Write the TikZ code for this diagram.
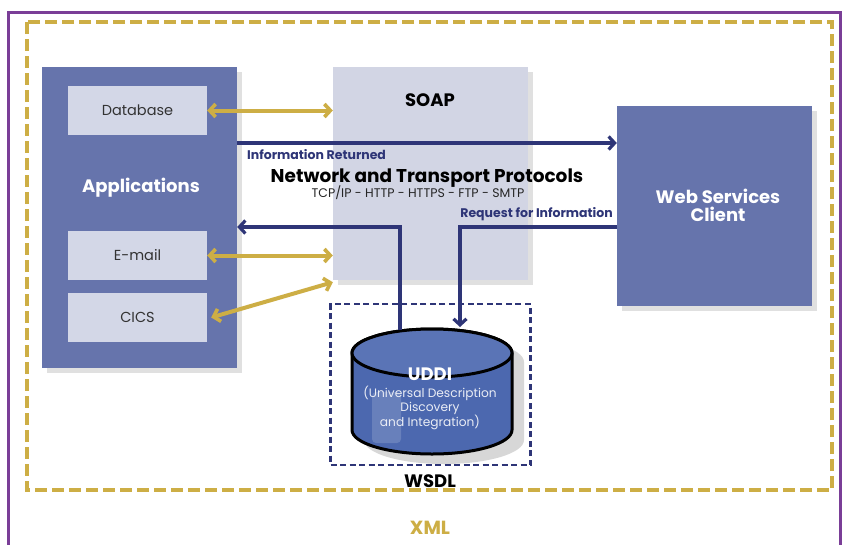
\documentclass[tikz,border=0pt]{standalone}
\usepackage{fontspec}
\setmainfont{Poppins}
\usetikzlibrary{arrows.meta,calc}
\definecolor{frameviolet}{HTML}{7A3E97}
\definecolor{xmlgold}{HTML}{CDAE45}
\definecolor{appblue}{HTML}{6674AC}
\definecolor{paleblue}{HTML}{D3D7E7}
\definecolor{soapgrey}{HTML}{D2D5E4}
\definecolor{navy}{HTML}{2E3577}
\definecolor{drumblue}{HTML}{4C68AF}
\definecolor{drumtop}{HTML}{5A74B6}
\tikzset{
  shadowbox/.style={fill=black!20, draw=none, opacity=0.6},
  appbox/.style={fill=appblue, draw=none, minimum width=195pt, minimum height=301pt, inner sep=0pt},
  subbox/.style={fill=paleblue, draw=none, minimum width=139pt, minimum height=49pt, inner sep=0pt, font=\fontsize{14.5}{16}\selectfont, text=black!80},
  goldarrow/.style={draw=xmlgold, line width=4pt, {Straight Barb[length=6pt,width=13pt,line width=3.6pt]}-{Straight Barb[length=6pt,width=13pt,line width=3.6pt]}},
  navyarrow/.style={draw=navy, line width=3.4pt, -{Straight Barb[length=6pt,width=13pt,line width=3.2pt]}},
  whitebold/.style={text=white, font=\bfseries\fontsize{18}{18}\selectfont, align=center},
  navylabel/.style={text=navy, font=\bfseries\fontsize{12.5}{14}\selectfont, inner sep=0pt},
  blacktitle/.style={font=\bfseries\fontsize{18}{20}\selectfont},
}
\begin{document}
\begin{tikzpicture}[x=1pt,y=-1pt]
\useasboundingbox (0,0) rectangle (848,544);
\fill[white] (0,0) rectangle (848,544);
% outer frame
\draw[frameviolet, line width=3pt] (8,12) rectangle (840,560);
% XML boundary
\draw[xmlgold, line width=3.6pt, dash pattern=on 12pt off 5pt] (27,22) rectangle (832,490);
\node[text=xmlgold, font=\bfseries\fontsize{19}{20}\selectfont] (xml) at (430,528) {XML};

% shadows of the large boxes
\fill[shadowbox] (47,72) rectangle (242,373);
\fill[shadowbox] (338,72) rectangle (533,285);
\fill[shadowbox] (622,111) rectangle (817,311);

% SOAP layer
\node[fill=soapgrey, minimum width=195pt, minimum height=213pt, inner sep=0pt] (soap) at (430.5,173.5) {};
\node[blacktitle] (soaplbl) at (430,100) {SOAP};

% applications
\node[appbox] (apps) at (139.5,217.5) {};
\node[whitebold] (appslbl) at (141,188) {Applications};
\node[subbox] (db) at (137.5,110.5) {Database};
\node[subbox] (email) at (137.5,255.5) {E-mail};
\node[subbox] (cics) at (137.5,317.5) {CICS};

% web services client
\node[fill=appblue, minimum width=195pt, minimum height=200pt, inner sep=0pt] (client) at (714.5,206) {};
\node[whitebold] (clientlbl) at (718,205) {Web Services\\Client};

% protocol labels
\node[blacktitle, font=\bfseries\fontsize{18.5}{20}\selectfont] (net) at (427,178.5) {Network and Transport Protocols};
\node[font=\fontsize{12.5}{14}\selectfont, text=black!85] (tcp) at (418,193) {TCP/IP - HTTP - HTTPS - FTP - SMTP};

% WSDL boundary and UDDI registry
\node[draw=navy, line width=2.6pt, dash pattern=on 6pt off 3.5pt, minimum width=200pt, minimum height=161pt, inner sep=0pt] (wsdl) at (430.5,384.5) {};
\node[blacktitle] (wsdllbl) at (430,481) {WSDL};

% cylinder shadow
\fill[black!22, opacity=0.7] (364,362) -- (364,440) arc[start angle=180, end angle=360, x radius=80pt, y radius=24pt] -- (524,362) arc[start angle=0, end angle=180, x radius=80pt, y radius=24pt] -- cycle;
% cylinder body
\filldraw[fill=drumblue, draw=black, line width=3pt] (352,353) -- (352,430) arc[start angle=180, end angle=360, x radius=80pt, y radius=24pt] -- (512,353) arc[start angle=0, end angle=180, x radius=80pt, y radius=24pt] -- cycle;
\fill[white, opacity=0.16, rounded corners=4pt] (372,392) rectangle (401,443);
\filldraw[fill=drumtop, draw=black, line width=3pt] (432,353) ellipse [x radius=80pt, y radius=24pt];
\node[inner sep=0pt, minimum width=160pt, minimum height=126pt] (uddi) at (432,391) {};
\node[whitebold] (uddilbl) at (430,374) {UDDI};
\node[text=white!88!drumblue, font=\fontsize{12.2}{14}\selectfont, align=center] (uddisub) at (430,408) {(Universal Description\\Discovery\\and Integration)};

% application data links
\draw[goldarrow] (db.east) -- (db.east -| soap.west);
\draw[goldarrow] (email.east) -- (email.east -| soap.west);
\draw[goldarrow] ([xshift=4pt]cics.east) -- ([yshift=-2pt]soap.south west);

% information returned to the client
\coordinate (retstart) at (apps.east |- 0,143);
\draw[navyarrow] (retstart) -- (retstart -| client.west);
\node[navylabel, anchor=west] (infolbl) at (247,155) {Information Returned};

% request path from client through UDDI
\coordinate (reqstart) at (client.west |- 0,227);
\coordinate (reqdown) at (460,327);
\draw[navyarrow] (reqstart) -| (reqdown);
\node[navylabel, anchor=east] (reqlbl) at (613,214) {Request for Information};

% lookup result back to the applications
\coordinate (lookup) at (400,330);
\draw[navyarrow] (lookup) |- (apps.east |- 0,227);
\end{tikzpicture}
\end{document}
